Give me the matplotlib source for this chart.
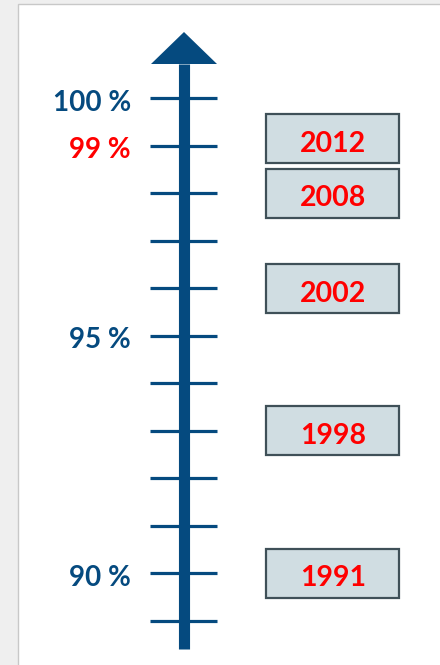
import matplotlib
matplotlib.use("Agg")
import matplotlib.pyplot as plt
from matplotlib.patches import Rectangle, Polygon

# scale: percent values shown on the vertical axis
tick_values = [89, 90, 91, 92, 93, 94, 95, 96, 97, 98, 99, 100]
label_values = [100, 99, 95, 90]
label_texts = ["100 %", "99 %", "95 %", "90 %"]
label_colors = ["#054A7F", "#FF0000", "#054A7F", "#054A7F"]

# years and where their boxes sit on the scale
years = ["1991", "1998", "2002", "2008", "2012"]
year_pos = [90, 93, 96, 98, 99.15]

navy = "#054A7F"
px = 47.5  # pixels per percent

plt.rcParams['font.family'] = ['Lato', 'DejaVu Sans']

fig = plt.figure(figsize=(4.4, 6.65), dpi=100)
ax = fig.add_axes([0, 0, 1, 1])
ax.set_xlim(0, 440)
ax.set_ylim(100 - 567 / px, 100 + 98 / px)
ax.axis("off")

# slide frame
ax.add_patch(Rectangle((0, 80), 440, 30, facecolor="#EFEFEF", edgecolor="none", zorder=0))
ax.add_patch(Rectangle((17.5, 80), 430, 100 + 93.5 / px - 80,
                       facecolor="white", edgecolor="#C8C8C8", linewidth=1, zorder=0.5))

# shaft and arrow head
y_bottom = 100 - 551 / px
y_base = 100 + 34 / px
y_tip = 100 + 66 / px
ax.plot([183.5, 183.5], [y_bottom, y_base], color=navy, linewidth=8, solid_capstyle="butt", zorder=2)
ax.add_patch(Polygon([(151, y_base), (217, y_base), (184, y_tip)], closed=True,
                     facecolor=navy, edgecolor="none", zorder=2))

# tick marks
for v in tick_values:
    ax.plot([150, 217], [v, v], color=navy, linewidth=2.3, solid_capstyle="butt", zorder=2)

# percent labels
for v, t, c in zip(label_values, label_texts, label_colors):
    ax.text(131, v - 13 / px, t, ha="right", va="baseline", fontsize=20,
            fontweight="bold", color=c)

# year boxes
box_h = 49 / px
for y, pos in zip(years, year_pos):
    ax.add_patch(Rectangle((266, pos - box_h / 2), 133, box_h, facecolor="#D0DDE2",
                           edgecolor="#3F5058", linewidth=1.6, zorder=3))
    ax.text(333, pos - 13.5 / px, y, ha="center", va="baseline", fontsize=20.5,
            fontweight="bold", color="#FF0000", zorder=4)

fig.savefig("out.png", dpi=100)
